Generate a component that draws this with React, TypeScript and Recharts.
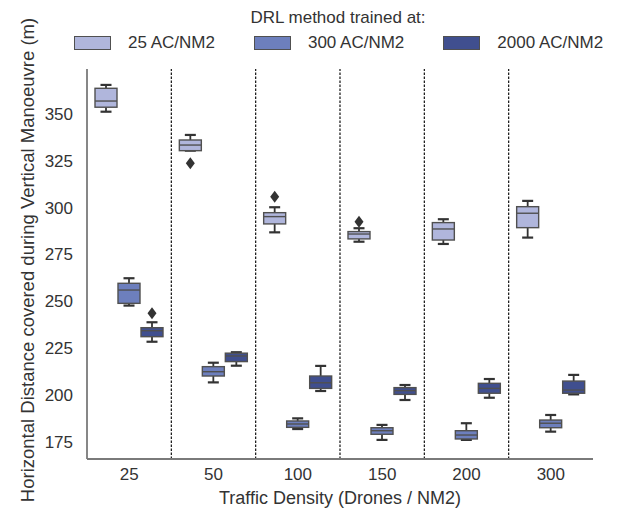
import { ComposedChart, Bar, XAxis, YAxis, ReferenceLine, Label } from 'recharts';

const densities = ['25', '50', '100', '150', '200', '300'];
const seriesNames = ['25 AC/NM2', '300 AC/NM2', '2000 AC/NM2'];
const seriesColors = ['#b0b6dc', '#6d7fbd', '#404f8f'];
const yTicks = [175, 200, 225, 250, 275, 300, 325, 350];

// trained at 25 AC/NM2
const lowMin = [351.2, 330.4, 286.8, 281.8, 280.6, 284.0];
const lowQ1 = [353.6, 330.4, 291.3, 283.3, 282.7, 289.3];
const lowMedian = [356.9, 333.4, 295.2, 285.9, 288.6, 297.0];
const lowQ3 = [363.7, 336.1, 297.3, 287.2, 292.0, 300.5];
const lowMax = [365.5, 338.8, 300.2, 289.0, 293.8, 303.6];
const lowOutliers = [[], [323.7], [305.8], [292.5], [], []];

// trained at 300 AC/NM2
const midMin = [247.7, 206.7, 181.8, 176.0, 176.0, 180.4];
const midQ1 = [248.9, 210.1, 182.7, 179.0, 176.5, 182.5];
const midMedian = [256.0, 212.4, 184.5, 180.9, 178.6, 184.9];
const midQ3 = [259.6, 215.1, 186.1, 182.5, 180.9, 186.6];
const midMax = [262.3, 217.2, 187.5, 184.0, 184.9, 189.3];
const midOutliers = [[], [], [], [], [], []];

// trained at 2000 AC/NM2
const highMin = [228.4, 215.6, 202.1, 197.3, 198.5, 200.3];
const highQ1 = [231.1, 217.8, 203.5, 200.3, 200.9, 200.9];
const highMedian = [234.3, 220.8, 206.5, 202.3, 203.5, 202.6];
const highQ3 = [235.9, 222.3, 210.1, 203.9, 206.2, 207.4];
const highMax = [238.8, 222.8, 215.5, 205.3, 208.5, 210.7];
const highOutliers = [[243.6], [], [], [], [], []];

type BoxStats = { min: number; q1: number; median: number; q3: number; max: number; outliers: number[] };

const stat = (mn: number[], q1: number[], md: number[], q3: number[], mx: number[], out: number[][], i: number): BoxStats => ({
  min: mn[i], q1: q1[i], median: md[i], q3: q3[i], max: mx[i], outliers: out[i],
});

const chartData = densities.map((d, i) => ({
  density: d,
  low: stat(lowMin, lowQ1, lowMedian, lowQ3, lowMax, lowOutliers, i),
  mid: stat(midMin, midQ1, midMedian, midQ3, midMax, midOutliers, i),
  high: stat(highMin, highQ1, highMedian, highQ3, highMax, highOutliers, i),
}));

const seriesKeys = ['low', 'mid', 'high'] as const;

const EDGE = '#505050';
const WHISKER = '#333';
const FONT = '"Liberation Sans", Arial, sans-serif';

// box drawn inside the [min, max] range bar, positions follow the bar's scale
function BoxShape(props: any) {
  const { x, y, width, height, payload, seriesKey, fill } = props;
  const s: BoxStats = payload[seriesKey];
  const k = height / (s.max - s.min);
  const toY = (v: number) => y + (s.max - v) * k;
  const cx = x + width / 2;
  const cap = width / 4;
  return (
    <g>
      <line x1={cx} x2={cx} y1={toY(s.max)} y2={toY(s.q3)} stroke={WHISKER} strokeWidth={1.8} />
      <line x1={cx} x2={cx} y1={toY(s.q1)} y2={toY(s.min)} stroke={WHISKER} strokeWidth={1.8} />
      <line x1={cx - cap} x2={cx + cap} y1={toY(s.max)} y2={toY(s.max)} stroke={WHISKER} strokeWidth={2.2} />
      <line x1={cx - cap} x2={cx + cap} y1={toY(s.min)} y2={toY(s.min)} stroke={WHISKER} strokeWidth={2.2} />
      <rect
        x={x}
        y={toY(s.q3)}
        width={width}
        height={Math.max(toY(s.q1) - toY(s.q3), 1)}
        fill={fill}
        stroke={EDGE}
        strokeWidth={1.4}
      />
      <line x1={x} x2={x + width} y1={toY(s.median)} y2={toY(s.median)} stroke={EDGE} strokeWidth={1.4} />
      {s.outliers.map((o, j) => {
        const oy = toY(o);
        return (
          <path
            key={j}
            d={`M${cx},${oy - 6} L${cx + 4.5},${oy} L${cx},${oy + 6} L${cx - 4.5},${oy} Z`}
            fill={WHISKER}
          />
        );
      })}
    </g>
  );
}

function ChartLegend() {
  return (
    <div style={{ position: 'absolute', top: 0, left: 0, width: 617, fontFamily: FONT, color: '#333' }}>
      <div style={{ position: 'absolute', top: 8, left: 0, width: 676, textAlign: 'center', fontSize: 17 }}>
        DRL method trained at:
      </div>
      <div style={{ position: 'absolute', top: 33, left: 74, display: 'flex', alignItems: 'center', gap: 39, fontSize: 17 }}>
        {seriesNames.map((name, i) => (
          <div key={name} style={{ display: 'flex', alignItems: 'center', gap: 17 }}>
            <div style={{ width: 35, height: 12, background: seriesColors[i], border: `1px solid ${EDGE}` }} />
            <span>{name}</span>
          </div>
        ))}
      </div>
    </div>
  );
}

export default function App() {
  return (
    <div style={{ position: 'absolute', left: 0, top: 0, width: 617, height: 513, background: '#fff', overflow: 'hidden' }}>
      <ComposedChart
        width={617}
        height={513}
        data={chartData}
        margin={{ top: 69, right: 24, bottom: 0, left: 0 }}
        barSize={22}
        barGap={1}
      >
        <XAxis
          dataKey="density"
          height={54}
          tickLine={false}
          tickSize={0}
          tickMargin={9}
          axisLine={{ stroke: '#7a7a7a', strokeWidth: 1.8 }}
          tick={{ fill: '#333', fontSize: 17, fontFamily: FONT }}
        >
          <Label
            content={({ viewBox }: any) => (
              <text
                x={viewBox.x + viewBox.width / 2}
                y={viewBox.y + 39}
                textAnchor="middle"
                dominantBaseline="central"
                fill="#333"
                fontSize={18}
                fontFamily={FONT}
              >
                Traffic Density (Drones / NM2)
              </text>
            )}
          />
        </XAxis>
        <YAxis
          width={87}
          domain={[165.8, 374]}
          allowDataOverflow
          ticks={yTicks}
          tickLine={false}
          tickSize={0}
          tickMargin={14}
          axisLine={{ stroke: '#7a7a7a', strokeWidth: 1.8 }}
          tick={{ fill: '#333', fontSize: 17, fontFamily: FONT }}
        >
          <Label
            content={({ viewBox }: any) => {
              const cy = viewBox.y + viewBox.height / 2 - 4;
              return (
                <text
                  x={27}
                  y={cy}
                  transform={`rotate(-90, 27, ${cy})`}
                  textAnchor="middle"
                  dominantBaseline="central"
                  fill="#333"
                  fontSize={18.5}
                  fontFamily={FONT}
                >
                  Horizontal Distance covered during Vertical Manoeuvre (m)
                </text>
              );
            }}
          />
        </YAxis>
        {densities.slice(1).map((d) => (
          <ReferenceLine key={d} x={d} position="start" stroke="#111" strokeWidth={1.2} strokeDasharray="2.5 1.5" />
        ))}
        {seriesKeys.map((key, i) => (
          <Bar
            key={key}
            dataKey={(row: any) => [row[key].min, row[key].max]}
            fill={seriesColors[i]}
            isAnimationActive={false}
            shape={(p: any) => <BoxShape {...p} seriesKey={key} />}
          />
        ))}
      </ComposedChart>
      <ChartLegend />
    </div>
  );
}
